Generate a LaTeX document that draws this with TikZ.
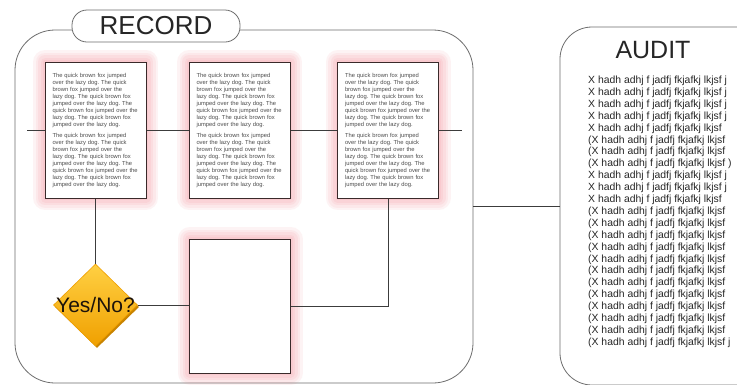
\documentclass[tikz,border=0pt]{standalone}
\usepackage{fontspec}
\setmainfont{Liberation Sans}
\usetikzlibrary{shapes.geometric,shadows}

\definecolor{framegray}{HTML}{6E6E6E}
\definecolor{pageedge}{HTML}{3A2A2A}
\definecolor{linkgray}{HTML}{3C3C3C}
\definecolor{glowpink}{HTML}{F06070}
\definecolor{goldlight}{HTML}{FFD043}
\definecolor{golddark}{HTML}{F0A000}
\definecolor{goldshade}{HTML}{C98400}

\newcommand{\foxline}{The quick brown fox jumped over the lazy dog. }
\newcommand{\foxpara}{\foxline\foxline\foxline\foxline\foxline}
\newcommand{\foxpage}{\frenchspacing\foxpara\par\vspace{4pt}\foxpara}

\begin{document}
\begin{tikzpicture}[x=1pt,y=-1pt,
    container/.style={draw=framegray, line width=0.8pt, fill=white, inner sep=0pt},
    tab/.style={draw=framegray, line width=0.8pt, fill=white, rounded corners=15pt,
        minimum width=168pt, minimum height=32pt, inner sep=0pt,
        font=\fontsize{26}{26}\selectfont, text=black!85},
    title/.style={font=\fontsize{25}{25}\selectfont, text=black!85, inner sep=0pt},
    glow/.style={preaction={draw=glowpink, draw opacity=0.075, line width=#1, line join=round}},
    page/.style={draw=pageedge, line width=1pt, fill=white,
        minimum width=101pt, minimum height=136pt, text width=86pt, inner sep=0pt,
        align=left, font=\fontsize{5.8}{7}\selectfont, text=black!70,
        glow=24pt, glow=19pt, glow=14pt, glow=9pt, glow=4pt},
    decision/.style={diamond, minimum width=84pt, minimum height=82pt, inner sep=0pt,
        top color=goldlight, bottom color=golddark, draw=golddark, line width=0.6pt,
        drop shadow={shadow xshift=1.5pt, shadow yshift=-2pt, fill=goldshade, opacity=1}},
    dectext/.style={font=\fontsize{21}{21}\selectfont, text=black!85!brown, inner sep=0pt},
    auditline/.style={anchor=base west, inner sep=0pt, font=\fontsize{10.4}{10}\selectfont, text=black!85},
    link/.style={draw=linkgray, line width=0.9pt}]
\clip (0,0) rectangle (737,384);
\fill[white] (0,0) rectangle (737,384);

\node[container, rounded corners=40pt, minimum width=458pt, minimum height=353pt] (record) at (244,206.5) {};
\node[tab] (recordtab) at (156,26) {RECORD};

\node[container, rounded corners=32pt, minimum width=240pt, minimum height=358pt] (audit) at (680,206) {};
\node[title] (audittitle) at (653,50) {AUDIT};

\foreach \t [count=\k] in {
    {X hadh adhj f jadfj fkjafkj lkjsf j},{X hadh adhj f jadfj fkjafkj lkjsf j},
    {X hadh adhj f jadfj fkjafkj lkjsf j},{X hadh adhj f jadfj fkjafkj lkjsf j},
    {X hadh adhj f jadfj fkjafkj lkjsf},{(X hadh adhj f jadfj fkjafkj lkjsf},
    {(X hadh adhj f jadfj fkjafkj lkjsf},{(X hadh adhj f jadfj fkjafkj lkjsf )},
    {X hadh adhj f jadfj fkjafkj lkjsf j},{X hadh adhj f jadfj fkjafkj lkjsf j},
    {X hadh adhj f jadfj fkjafkj lkjsf},{(X hadh adhj f jadfj fkjafkj lkjsf},
    {(X hadh adhj f jadfj fkjafkj lkjsf},{(X hadh adhj f jadfj fkjafkj lkjsf},
    {(X hadh adhj f jadfj fkjafkj lkjsf},{(X hadh adhj f jadfj fkjafkj lkjsf},
    {(X hadh adhj f jadfj fkjafkj lkjsf},{(X hadh adhj f jadfj fkjafkj lkjsf},
    {(X hadh adhj f jadfj fkjafkj lkjsf},{(X hadh adhj f jadfj fkjafkj lkjsf},
    {(X hadh adhj f jadfj fkjafkj lkjsf},{(X hadh adhj f jadfj fkjafkj lkjsf},
    {(X hadh adhj f jadfj fkjafkj lkjsf j}}
    {
    \node[auditline] (aline\k) at (588,{83.5+(\k-1)*11.9}) {\t};
    }

\foreach \x [count=\k] in {95.5,239.5,388}
    {
    \node[page] (doc\k) at (\x,130) {\foxpage};
    }
\node[page, minimum height=134pt] (blank) at (240,306) {};

\node[decision] (dec) at (95.5,305) {};
\node[dectext] (declabel) at (dec) {Yes/No?};

\coordinate (chainin) at (27,130);
\coordinate (chainout) at (462,130);
\draw[link] (chainin) -- (doc1.west);
\draw[link] (doc1.east) -- (doc2.west);
\draw[link] (doc2.east) -- (doc3.west);
\draw[link] (doc3.east) -- (chainout);
\draw[link] (doc1.south) -- (dec.north);
\draw[link] (dec.east) -- (dec.east -| blank.west);
\draw[link] (blank.east) -| (doc3.south);
\draw[link] (record.east) -- (record.east -| audit.west);
\end{tikzpicture}
\end{document}
